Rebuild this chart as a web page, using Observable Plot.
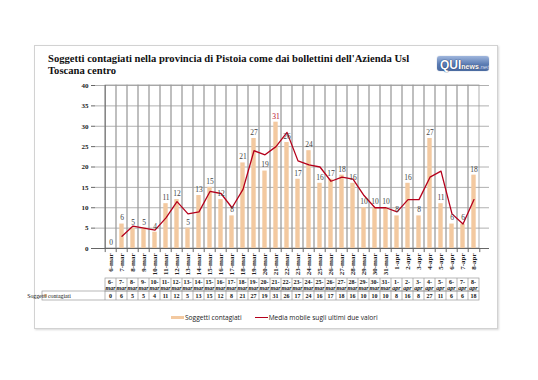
<!DOCTYPE html>
<html><head><meta charset="utf-8">
<script src="https://cdn.jsdelivr.net/npm/d3@7"></script>
<script src="https://cdn.jsdelivr.net/npm/@observablehq/plot@0.6"></script>
<style>
body{margin:0;background:#fff;width:538px;height:380px;position:relative;overflow:hidden;font-family:"Liberation Serif",serif}
#frame{position:absolute;left:34px;top:45px;width:462px;height:282px;border:1px solid #d2d2d2;box-shadow:1px 1px 2px #d8d8d8;background:#fff}
#title{position:absolute;left:48px;top:53px;font:bold 10.6px "Liberation Serif",serif;line-height:12px;color:#111;width:372px;z-index:3}
#logo{position:absolute;left:437px;top:56px;width:52px;height:15px;border-radius:3px;background:linear-gradient(#9fb6dd,#5b7cb3 55%,#4a6aa0);z-index:3;white-space:nowrap;font-family:"Liberation Sans",sans-serif;line-height:15px;box-shadow:0 0 1px #7d8fb0}
#logo .q{font-weight:bold;font-size:12px;color:#fff;margin-left:3px;text-shadow:0 0 1px #203f74,0 0 1px #203f74}
#logo .n{font-weight:bold;font-size:7px;color:#fff;text-shadow:0 0 1px #334}
#logo .t{font-size:6px;color:#cfdaf0;font-style:italic}
#chart{position:absolute;left:0;top:0;z-index:2}
#legend{position:absolute;left:171px;top:312px;font:6.6px "Open Sans",sans-serif;color:#222;z-index:3;white-space:nowrap}
#legend span{display:inline-block;vertical-align:middle}
</style></head><body>
<div id="frame"></div>
<div id="title">Soggetti contagiati nella provincia di Pistoia come dai bollettini dell'Azienda Usl Toscana centro</div>
<div id="logo"><span class="q">QUI</span><span class="n">news</span><span class="t">.net</span></div>
<div id="chart"></div>
<div id="legend"></div>
<script>
const dates = ["6-mar","7-mar","8-mar","9-mar","10-mar","11-mar","12-mar","13-mar","14-mar","15-mar","16-mar","17-mar","18-mar","19-mar","20-mar","21-mar","22-mar","23-mar","24-mar","25-mar","26-mar","27-mar","28-mar","29-mar","30-mar","31-mar","1-apr","2-apr","3-apr","4-apr","5-apr","6-apr","7-apr","8-apr"];
const cases = [0,6,5,5,4,11,12,5,13,15,12,8,21,27,19,31,26,17,24,16,17,18,16,10,10,10,8,16,8,27,11,6,6,18];
const avgDates = dates.slice(1);
const movingAvg = [3,5.5,5,4.5,7.5,11.5,8.5,9,14,13.5,10,14.5,24,23,25,28.5,21.5,20.5,20,16.5,17.5,17,13,10,10,9,12,12,17.5,19,8.5,6,12];
const yTicks = [0,5,10,15,20,25,30,35,40];
const seriesBar = "Soggetti contagiati";
const seriesLine = "Media mobile sugli ultimi due valori";

const barColor = "#f3c9a0", lineColor = "#b5001b", grid = "#9c9c9c";
const serif = "Liberation Serif, serif";
const maxVal = d3.max(cases);
const barData = dates.map((d,i)=>({date:d, v:cases[i]}));
const lineData = avgDates.map((d,i)=>({date:d, v:movingAvg[i]}));
const step = (538-95-49)/dates.length;

const chart = Plot.plot({
  width:538, height:380,
  marginLeft:95, marginRight:49, marginTop:85, marginBottom:132,
  style:{background:"transparent", overflow:"visible"},
  x:{domain:dates, padding:0, label:null},
  y:{domain:[0,40], label:null},
  marks:[
    Plot.ruleY(yTicks, {stroke:grid, strokeWidth:0.8}),
    Plot.barY(dates, {x:d=>d, y1:0, y2:40, fill:"none", stroke:grid, strokeWidth:0.8}),
    Plot.barY(barData, {x:"date", y:"v", fill:barColor, insetLeft:3.3, insetRight:3.3}),
    Plot.line(lineData, {x:"date", y:"v", stroke:lineColor, strokeWidth:1.3}),
    Plot.text(barData, {x:"date", y:"v", text:d=>String(d.v), dy:-6, fontFamily:serif, fontSize:7.5,
      fill:d=>d.v===maxVal?lineColor:"#444", fontWeight:d=>d.v===maxVal?"bold":"normal"}),
    Plot.ruleY([0], {stroke:"#666"}),
    Plot.ruleX([dates[0]], {dx:-step/2, stroke:"#666"}),
    Plot.ruleX(dates, {y1:0, y2:-1, dx:-step/2, stroke:"#666"}),
    Plot.ruleX([dates[dates.length-1]], {y1:0, y2:-1, dx:step/2, stroke:"#666"}),
    Plot.axisY({ticks:yTicks, tickSize:4, tickPadding:3, label:null, fontFamily:serif, fontWeight:"bold", fontSize:7, stroke:"#666", fill:"#222"}),
    Plot.axisX({tickRotate:-90, tickSize:0, tickPadding:5, label:null, fontFamily:serif, fontWeight:"bold", fontSize:7, fill:"#222"})
  ]
});
document.getElementById("chart").appendChild(chart);

// data table built with the chart's own x scale
const xs = chart.scale("x");
const svg = d3.select(chart);
const g = svg.append("g").attr("font-family", serif).attr("font-size", 6).attr("fill", "#111");
const top1 = 278, top2 = 291, bot = 300;
const x0 = xs.apply(dates[0]), bw = xs.step;
const lblLeft = 42;
g.append("rect").attr("x", x0).attr("y", top1).attr("width", bw*dates.length).attr("height", top2-top1).attr("fill","none").attr("stroke","#999").attr("stroke-width",0.7);
g.append("rect").attr("x", lblLeft).attr("y", top2).attr("width", x0 + bw*dates.length - lblLeft).attr("height", bot-top2).attr("fill","none").attr("stroke","#999").attr("stroke-width",0.7);
g.append("line").attr("x1", x0).attr("x2", x0).attr("y1", top2).attr("y2", bot).attr("stroke","#999").attr("stroke-width",0.7);
dates.forEach((d,i)=>{
  const xl = xs.apply(d), xc = xl + bw/2;
  if (i>0) g.append("line").attr("x1", xl).attr("x2", xl).attr("y1", top1).attr("y2", bot).attr("stroke","#999").attr("stroke-width",0.7);
  const [day, mon] = d.split("-");
  g.append("text").attr("x", xc).attr("y", top1+6).attr("text-anchor","middle").attr("font-weight","bold").text(day+"-");
  g.append("text").attr("x", xc).attr("y", top1+12).attr("text-anchor","middle").attr("font-weight","bold").attr("font-style","italic").text(mon);
  g.append("text").attr("x", xc).attr("y", bot-2).attr("text-anchor","middle").attr("font-weight","bold").text(String(cases[i]));
});
g.append("rect").attr("x", lblLeft+2).attr("y", top2+3).attr("width",3).attr("height",3).attr("fill", barColor);
g.append("text").attr("x", lblLeft+7).attr("y", bot-2).attr("font-size", 5.8).text(seriesBar);

// legend
document.getElementById("legend").innerHTML =
  `<span style="width:13px;height:3px;background:${barColor}"></span><span style="margin-left:1px">${seriesBar}</span>`+
  `<span style="width:13px;height:1.3px;background:${lineColor};margin-left:13px"></span><span style="margin-left:1px">${seriesLine}</span>`;
</script>
</body></html>
